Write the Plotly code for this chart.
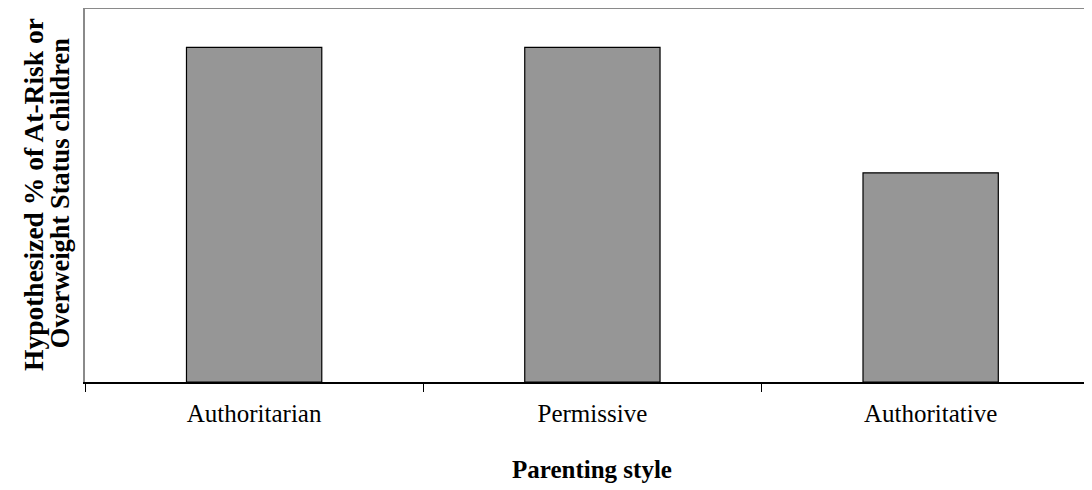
import plotly.graph_objects as go

categories = ["Authoritarian", "Permissive", "Authoritative"]
values = [80, 80, 50]
x_title = "Parenting style"
y_title_lines = ["Hypothesized % of At-Risk or", "Overweight Status children"]

SERIF = "Liberation Serif, Times New Roman, serif"

fig = go.Figure()
fig.add_trace(go.Bar(
    x=categories, y=values,
    marker=dict(color="#969696", line=dict(color="#000000", width=1.2)),
    width=0.4,
))

fig.update_layout(
    width=1084, height=482,
    margin=dict(l=77, r=0, t=0, b=108),
    paper_bgcolor="white", plot_bgcolor="white",
    showlegend=False,
    xaxis=dict(
        type="category",
        range=[-0.5, 2.477],
        showline=True, linecolor="#000000", linewidth=1.5,
        ticks="outside", tickson="boundaries", ticklen=8, tickcolor="#000000", tickwidth=1,
        ticklabelstandoff=8,
        tickfont=dict(family=SERIF, size=25, color="#000000"),
        showgrid=False, zeroline=False,
    ),
    yaxis=dict(
        range=[0, 89.4],
        showline=True, linecolor="#8a8a8a", linewidth=1.5,
        showticklabels=False, ticks="",
        showgrid=False, zeroline=False,
    ),
    shapes=[dict(type="line", xref="paper", yref="paper", x0=0, x1=1, y0=1, y1=1,
                 line=dict(color="#8a8a8a", width=2))],
    annotations=[
        dict(text="<b>%s</b>" % x_title, xref="x", x=1, yref="paper", y=-0.235,
             yanchor="middle", showarrow=False,
             font=dict(family=SERIF, size=25, color="#000000")),
        dict(text="<b>%s</b>" % y_title_lines[0], xref="paper", x=0, xshift=-52,
             yref="paper", y=0.5, textangle=-90, showarrow=False,
             xanchor="center", yanchor="middle",
             font=dict(family=SERIF, size=27.5, color="#000000")),
        dict(text="<b>%s</b>" % y_title_lines[1], xref="paper", x=0, xshift=-25,
             yref="paper", y=0.505, textangle=-90, showarrow=False,
             xanchor="center", yanchor="middle",
             font=dict(family=SERIF, size=26.5, color="#000000")),
    ],
)

fig.write_html("out.html")
